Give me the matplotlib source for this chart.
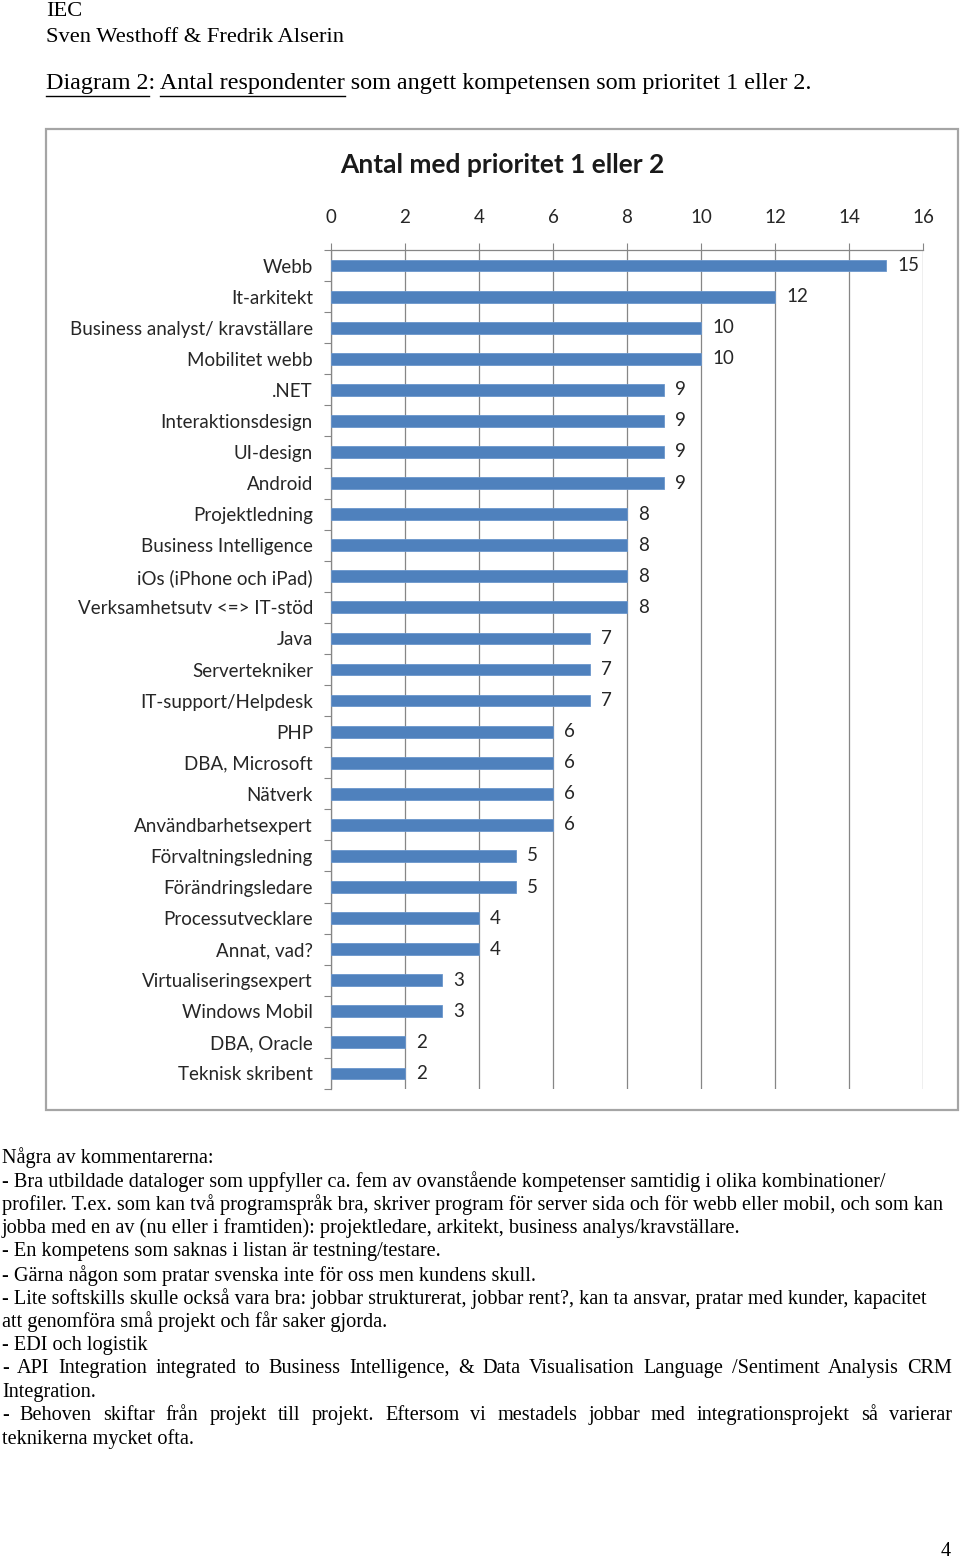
import matplotlib
matplotlib.use("Agg")
import matplotlib.pyplot as plt
import numpy as np
from matplotlib.patches import Rectangle
from matplotlib.lines import Line2D

# ---------------- data ----------------
categories = [
    "Webb", "It-arkitekt", "Business analyst/ kravställare", "Mobilitet webb",
    ".NET", "Interaktionsdesign", "UI-design", "Android", "Projektledning",
    "Business Intelligence", "iOs (iPhone och iPad)", "Verksamhetsutv <=> IT-stöd",
    "Java", "Servertekniker", "IT-support/Helpdesk", "PHP", "DBA, Microsoft",
    "Nätverk", "Användbarhetsexpert", "Förvaltningsledning", "Förändringsledare",
    "Processutvecklare", "Annat, vad?", "Virtualiseringsexpert", "Windows Mobil",
    "DBA, Oracle", "Teknisk skribent",
]
values = [15, 12, 10, 10, 9, 9, 9, 9, 8, 8, 8, 8, 7, 7, 7, 6, 6, 6, 6, 5, 5, 4, 4, 3, 3, 2, 2]
x_ticks = [0, 2, 4, 6, 8, 10, 12, 14, 16]
chart_title = "Antal med prioritet 1 eller 2"

header_lines = ["IEC", "Sven Westhoff & Fredrik Alserin"]
caption = "Diagram 2: Antal respondenter som angett kompetensen som prioritet 1 eller 2."
comment_lines = [
    ("Några av kommentarerna:", False),
    ("- Bra utbildade dataloger som uppfyller ca. fem av ovanstående kompetenser samtidig i olika kombinationer/", False),
    ("profiler. T.ex. som kan två programspråk bra, skriver program för server sida och för webb eller mobil, och som kan", False),
    ("jobba med en av (nu eller i framtiden): projektledare, arkitekt, business analys/kravställare.", False),
    ("- En kompetens som saknas i listan är testning/testare.", False),
    ("- Gärna någon som pratar svenska inte för oss men kundens skull.", False),
    ("- Lite softskills skulle också vara bra: jobbar strukturerat, jobbar rent?, kan ta ansvar, pratar med kunder, kapacitet", False),
    ("att genomföra små projekt och får saker gjorda.", False),
    ("- EDI och logistik", False),
    ("- API Integration integrated to Business Intelligence, & Data Visualisation Language /Sentiment Analysis CRM", True),
    ("Integration.", False),
    ("- Behoven skiftar från projekt till projekt. Eftersom vi mestadels jobbar med integrationsprojekt så varierar", True),
    ("teknikerna mycket ofta.", False),
]
page_number = "4"

# ---------------- layout ----------------
W, H = 960, 1561
fig = plt.figure(figsize=(W / 100, H / 100), dpi=100)
fig.patch.set_facecolor("white")

def fx(x):
    return x / W

def fy(y):
    return 1 - y / H

SERIF = "Liberation Serif"
SANS = "Lato"
HEAD_FS = 16.2
CAP_FS = 17.4
DOC_FS = 14.6
CH_FS = 13.5
renderer = fig.canvas.get_renderer()

def text_width(s, fs=DOC_FS, family=SERIF):
    t = fig.text(0, 0, s, fontsize=fs, family=family)
    w = t.get_window_extent(renderer).width
    t.remove()
    return w

# header
fig.text(fx(46), fy(11), header_lines[0], fontsize=HEAD_FS, family=SERIF, va="center", ha="left")
fig.text(fx(46), fy(37), header_lines[1], fontsize=HEAD_FS, family=SERIF, va="center", ha="left")

# caption with underlines
cap_x, cap_y = 46, 84
fig.text(fx(cap_x), fy(cap_y), caption, fontsize=CAP_FS, family=SERIF, va="center", ha="left")
ul_y = cap_y + 12
w1 = text_width("Diagram 2", CAP_FS)
w_ant_end = text_width("Diagram 2: Antal respondenter", CAP_FS)
w_ant_start = text_width("Diagram 2: Antal", CAP_FS) - text_width("Antal", CAP_FS)
for a, b in [(cap_x, cap_x + w1), (cap_x + w_ant_start, cap_x + w_ant_end)]:
    fig.add_artist(Line2D([fx(a), fx(b)], [fy(ul_y), fy(ul_y)], color="black", lw=1.0,
                          transform=fig.transFigure))

# chart frame
fig.add_artist(Rectangle((fx(46), fy(1110)), fx(958) - fx(46), fy(129) - fy(1110),
                         transform=fig.transFigure, fill=False, edgecolor="#a5a5a5", lw=1.6))

# chart title
fig.text(fx(502), fy(165), chart_title, fontsize=19, family=SANS, weight="bold",
         ha="center", va="center", color="#1a1a1a")

# axes
ax_left, ax_right, ax_top, ax_bottom = 331, 923, 250, 1089
ax = fig.add_axes([fx(ax_left), fy(ax_bottom), fx(ax_right) - fx(ax_left), fy(ax_top) - fy(ax_bottom)])
n = len(categories)
ypos = np.arange(n)
ax.barh(ypos, values, height=0.38, color="#4f81bd", edgecolor="#6a96cc", linewidth=0.6, zorder=3)
ax.set_xlim(0, 16)
ax.set_ylim(n - 0.5, -0.5)

ax.xaxis.tick_top()
ax.set_xticks(x_ticks)
ax.set_xticklabels([str(t) for t in x_ticks], fontsize=CH_FS, family=SANS, color="#262626")
ax.tick_params(axis="x", length=5, color="#868686", pad=12)
ax.grid(axis="x", color="#868686", lw=0.9, zorder=0)
ax.set_axisbelow(True)

ax.set_yticks(np.arange(-0.5, n, 1.0))
ax.set_yticklabels([])
ax.tick_params(axis="y", which="major", length=5, color="#868686")
ax.set_yticks(ypos, minor=True)
ax.set_yticklabels(categories, minor=True, fontsize=CH_FS, family=SANS, color="#262626")
ax.tick_params(axis="y", which="minor", length=0, pad=13)

for s in ["bottom", "right"]:
    ax.spines[s].set_visible(False)
for s in ["top", "left"]:
    ax.spines[s].set_color("#868686")
    ax.spines[s].set_linewidth(0.9)

for i, v in enumerate(values):
    ax.annotate(str(v), (v, i), xytext=(8, 0), textcoords="offset points",
                va="center", ha="left", fontsize=CH_FS, family=SANS, color="#262626")

# comments
cx, cy0, dy = 2, 1158, 23.42
right_edge = 952
for k, (line, justify) in enumerate(comment_lines):
    y = cy0 + k * dy
    if not justify:
        fig.text(fx(cx), fy(y), line, fontsize=DOC_FS, family=SERIF, va="center", ha="left")
    else:
        words = line.split(" ")
        widths = [text_width(w) for w in words]
        gap = (right_edge - cx - sum(widths)) / (len(words) - 1)
        x = cx
        for w, wd in zip(words, widths):
            fig.text(fx(x), fy(y), w, fontsize=DOC_FS, family=SERIF, va="center", ha="left")
            x += wd + gap

fig.text(fx(946), fy(1551), page_number, fontsize=DOC_FS, family=SERIF, va="center", ha="center")

fig.savefig("out.png", dpi=100, facecolor="white")
